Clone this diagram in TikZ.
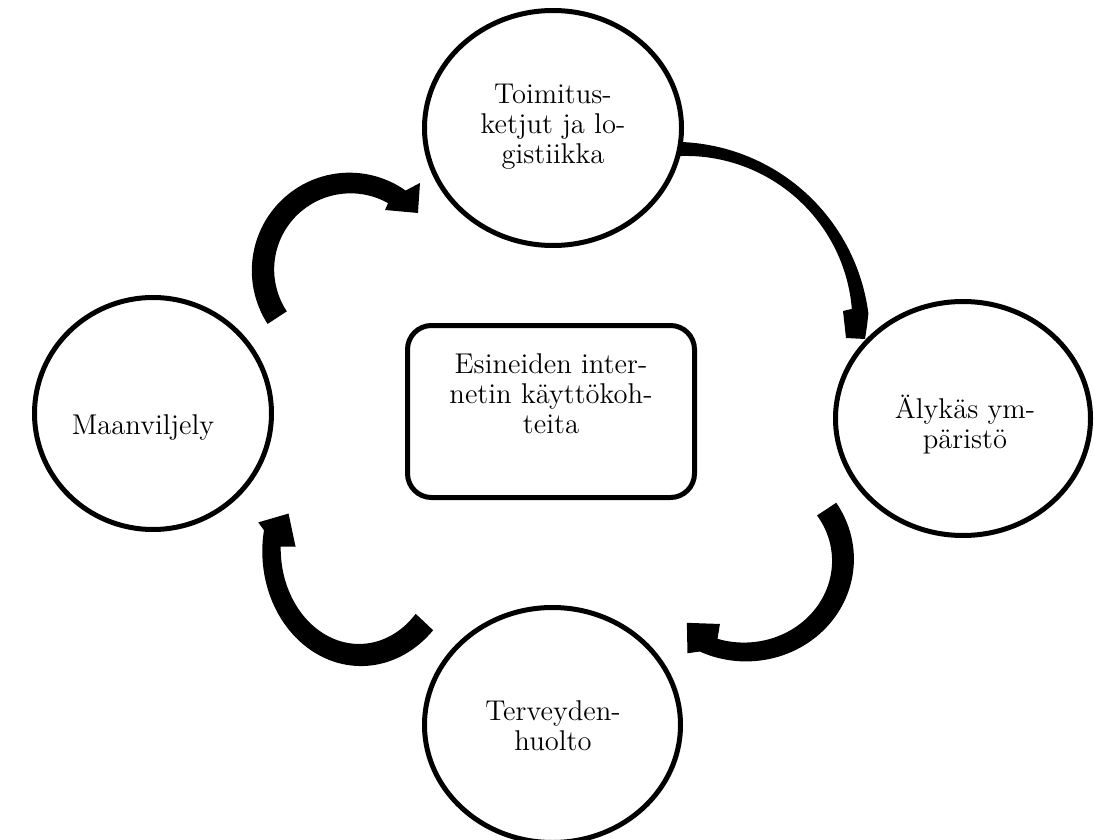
\documentclass[tikz,border=0pt]{standalone}
\usetikzlibrary{shapes.geometric}

\tikzset{
  bubble/.style={ellipse, draw=black, line width=2.5pt, fill=white, inner sep=0pt},
  hub/.style={rectangle, rounded corners=12pt, draw=black, line width=2.5pt, fill=white,
              inner sep=0pt, minimum width=143.5pt, minimum height=86pt},
  caption/.style={align=center, inner sep=0pt, font=\fontsize{14.3}{15}\selectfont},
  bandarrow/.style={fill=black},
}

\begin{document}
\begin{tikzpicture}[x=0.5pt, y=-0.5pt]
  \useasboundingbox (0,0) rectangle (1094,840);

  % curved block arrows (drawn first, the bubbles cover their ends)
  % Maanviljely -> Toimitusketjut
  \begin{scope}[declare function={wa(\t)=11.5-1.5*(\t-146.8)/158.2;}]
    \fill[bandarrow]
      plot[domain=146.8:305, samples=60, variable=\t]
        ({350+(87+wa(\t))*cos(\t)},{270+(87+wa(\t))*sin(\t)})
      -- ({350+111.7*cos(308.8)},{270+111.7*sin(308.8)})
      -- ({350+88.7*cos(320)},{270+88.7*sin(320)})
      -- ({350+69.5*cos(300.3)},{270+69.5*sin(300.3)})
      -- plot[domain=299.6:146.8, samples=60, variable=\t]
        ({350+(87-wa(\t))*cos(\t)},{270+(87-wa(\t))*sin(\t)})
      -- cycle;
  \end{scope}

  % Toimitusketjut -> Älykäs ympäristö (thin band, short blunt head)
  \begin{scope}[declare function={wb(\t)=5+3*((\t-308)/46)^2;}]
    \fill[bandarrow]
      plot[domain=262:355, samples=60, variable=\t]
        ({680+(181+wb(\t))*cos(\t)},{330+(181+wb(\t))*sin(\t)})
      -- (867,326) -- (865,339) -- (846,338) -- (843,311)
      -- plot[domain=353:262, samples=60, variable=\t]
        ({680+(181-wb(\t))*cos(\t)},{330+(181-wb(\t))*sin(\t)})
      -- cycle;
  \end{scope}

  % Älykäs ympäristö -> Terveydenhuolto
  \begin{scope}[declare function={wc(\t)=11.5-2.5*(\t+33.6)/148.6;}]
    \fill[bandarrow]
      plot[domain=-33.6:115, samples=60, variable=\t]
        ({745+(98+wc(\t))*cos(\t)},{560+(92+wc(\t))*sin(\t)})
      -- ({745+114*cos(120.3)},{560+108*sin(120.3)})
      -- ({745+89*cos(130.8)},{560+83*sin(130.8)})
      -- ({745+74*cos(109.8)},{560+68*sin(109.8)})
      -- plot[domain=108:-33.6, samples=60, variable=\t]
        ({745+(98-wc(\t))*cos(\t)},{560+(92-wc(\t))*sin(\t)})
      -- cycle;
  \end{scope}

  % Terveydenhuolto -> Maanviljely
  \begin{scope}[declare function={wd(\t)=12-3*(\t-43.3)/146.7;}]
    \fill[bandarrow]
      plot[domain=43.3:190, samples=60, variable=\t]
        ({360+(88.5+wd(\t))*cos(\t)},{550+(105+wd(\t))*sin(\t)})
      -- ({360+104.5*cos(193.2)},{550+121*sin(193.2)})
      -- ({360+77.5*cos(202.8)},{550+94*sin(202.8)})
      -- ({360+64.5*cos(182.3)},{550+81*sin(182.3)})
      -- plot[domain=182:43.3, samples=60, variable=\t]
        ({360+(88.5-wd(\t))*cos(\t)},{550+(105-wd(\t))*sin(\t)})
      -- cycle;
  \end{scope}

  % bubbles and the central box
  \node[bubble, minimum width=128.5pt, minimum height=117.5pt] (supply) at (553,128) {};
  \node[bubble, minimum width=118.5pt, minimum height=116pt]   (farm)   at (153,413.5) {};
  \node[bubble, minimum width=127.5pt, minimum height=117pt]   (smart)  at (963,418.5) {};
  \node[bubble, minimum width=128pt,   minimum height=117.5pt] (health) at (552.5,725) {};
  \node[hub] (iot) at (551,411.5) {};

  % texts
  \node[caption] (supplyT) at (553,127) {Toimitus-\\ketjut ja lo-\\gistiikka};
  \node[caption] (farmT)   at (143,427) {Maanviljely};
  \node[caption] (smartT)  at (965,425) {Älykäs ym-\\päristö};
  \node[caption] (healthT) at (553,726) {Terveyden-\\huolto};
  \node[caption] (iotT)    at (551,394) {Esineiden inter-\\netin käyttökoh-\\teita};
\end{tikzpicture}
\end{document}
